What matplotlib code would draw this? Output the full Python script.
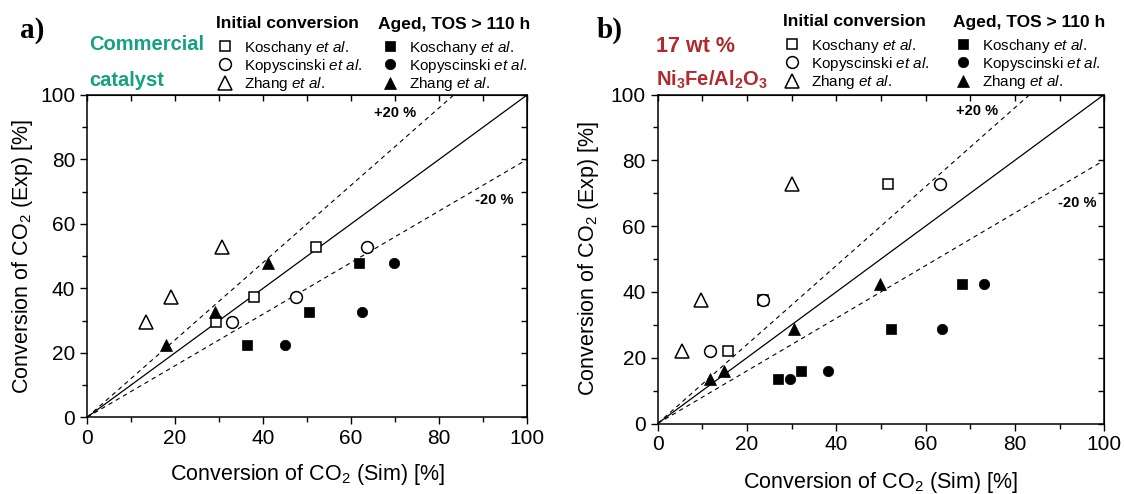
import matplotlib
matplotlib.use("Agg")
import matplotlib.pyplot as plt
import numpy as np
from matplotlib.legend import Legend
from matplotlib.ticker import MultipleLocator

plt.rcParams['font.family'] = ['Liberation Sans', 'DejaVu Sans']
plt.rcParams['mathtext.fontset'] = 'custom'
plt.rcParams['mathtext.rm'] = 'Liberation Sans'
plt.rcParams['mathtext.it'] = 'Liberation Sans:italic'
plt.rcParams['mathtext.bf'] = 'Liberation Sans:bold'

# --- a) commercial catalyst ---
exp_init_a = [29.6, 37.3, 52.8]
exp_aged_a = [22.3, 32.6, 47.8]
sim_koschany_init_a = [29.3, 37.9, 52.0]
sim_kopyscinski_init_a = [33.0, 47.4, 63.6]
sim_zhang_init_a = [13.3, 19.0, 30.6]
sim_koschany_aged_a = [36.4, 50.4, 61.7]
sim_kopyscinski_aged_a = [45.1, 62.4, 69.8]
sim_zhang_aged_a = [17.9, 29.2, 41.1]

# --- b) 17 wt % Ni3Fe/Al2O3 ---
exp_init_b = [22.0, 37.5, 72.7]
exp_aged_b = [13.4, 16.0, 28.7, 42.3]
sim_koschany_init_b = [15.8, 23.6, 51.6]
sim_kopyscinski_init_b = [11.7, 23.6, 63.3]
sim_zhang_init_b = [5.5, 9.6, 30.1]
sim_koschany_aged_b = [27.0, 32.1, 52.2, 68.2]
sim_kopyscinski_aged_b = [29.7, 38.2, 63.7, 73.1]
sim_zhang_aged_b = [11.7, 14.8, 30.6, 49.9]

deviation = 0.2  # +/- 20 % band

authors = [r"Koschany $\it{et\ al.}$", r"Kopyscinski $\it{et\ al.}$", r"Zhang $\it{et\ al.}$"]
markers = ['s', 'o', '^']
open_sizes = [7.5, 8.5, 10]
filled_sizes = [6.5, 7.5, 9]

W, H = 1124, 494
fig = plt.figure(figsize=(W / 100, H / 100), dpi=100)
ax_a = fig.add_axes([0.0774, 0.1553, 0.3915, 0.6524])
ax_b = fig.add_axes([0.5851, 0.1427, 0.3973, 0.666])


def draw_panel(ax, sims_init, exp_init, sims_aged, exp_aged, xlabelpad, ylabelpad):
    x = np.array([0, 100])
    ax.plot(x, x, color='black', lw=0.9, zorder=1)
    ax.plot(x, (1 + deviation) * x, color='black', lw=0.8, dashes=(4, 3.5), zorder=1)
    ax.plot(x, (1 - deviation) * x, color='black', lw=0.8, dashes=(4, 3.5), zorder=1)

    h_open, h_filled = [], []
    for sim, m, ms, lab in zip(sims_init, markers, open_sizes, authors):
        h, = ax.plot(sim, exp_init, ls='none', marker=m, ms=ms, mfc='white',
                     mec='black', mew=1.1, label=lab, zorder=3)
        h_open.append(h)
    for sim, m, ms, lab in zip(sims_aged, markers, filled_sizes, authors):
        h, = ax.plot(sim, exp_aged, ls='none', marker=m, ms=ms, mfc='black',
                     mec='black', mew=0.5, label=lab, zorder=3)
        h_filled.append(h)

    ax.set_xlim(0, 100)
    ax.set_ylim(0, 100)
    ax.xaxis.set_major_locator(MultipleLocator(20))
    ax.yaxis.set_major_locator(MultipleLocator(20))
    ax.xaxis.set_minor_locator(MultipleLocator(10))
    ax.yaxis.set_minor_locator(MultipleLocator(10))
    ax.tick_params(which='both', direction='out', top=False, right=False,
                   labelsize=15, width=1.0)
    ax.tick_params(which='major', length=5)
    ax.tick_params(which='minor', length=3.5)
    for side in ['left', 'bottom', 'top', 'right']:
        ax.spines[side].set_linewidth(1.1)

    # mirrored inward ticks on top and right
    top = ax.secondary_xaxis('top')
    top.xaxis.set_major_locator(MultipleLocator(10))
    top.tick_params(direction='in', length=4, width=1.0, labeltop=False)
    right = ax.secondary_yaxis('right')
    right.yaxis.set_major_locator(MultipleLocator(10))
    right.tick_params(direction='in', length=4, width=1.0, labelright=False)

    ax.set_xlabel(r"Conversion of CO$_2$ (Sim) [%]", fontsize=15.5, labelpad=xlabelpad)
    ax.set_ylabel(r"Conversion of CO$_2$ (Exp) [%]", fontsize=15.5, labelpad=ylabelpad)
    return h_open, h_filled


h_open_a, h_filled_a = draw_panel(
    ax_a,
    [sim_koschany_init_a, sim_kopyscinski_init_a, sim_zhang_init_a], exp_init_a,
    [sim_koschany_aged_a, sim_kopyscinski_aged_a, sim_zhang_aged_a], exp_aged_a, 10, 4)
h_open_b, h_filled_b = draw_panel(
    ax_b,
    [sim_koschany_init_b, sim_kopyscinski_init_b, sim_zhang_init_b], exp_init_b,
    [sim_koschany_aged_b, sim_kopyscinski_aged_b, sim_zhang_aged_b], exp_aged_b, 11, 7)

# band labels
for ax, (xp, yp), (xm, ym) in [(ax_a, (70, 94.5), (92.5, 67.5)),
                               (ax_b, (71.5, 95), (94, 67))]:
    ax.text(xp, yp, "+20 %", fontsize=10.5, fontweight='bold', ha='center', va='center')
    ax.text(xm, ym, "-20 %", fontsize=10.5, fontweight='bold', ha='center', va='center')


def add_legend(ax, handles, title, x_title, y_title, x_marker, y_first_row):
    fs = 11
    px_per_em = fs * 100 / 72
    fig.text(x_title / W, 1 - y_title / H, title, fontsize=12.5, fontweight='bold',
             ha='left', va='center')
    leg = Legend(ax, handles, [h.get_label() for h in handles],
                 frameon=False, loc='upper left', fontsize=fs,
                 handlelength=1.0, handletextpad=0.75, labelspacing=0.02,
                 borderpad=0, borderaxespad=0, numpoints=1,
                 bbox_transform=fig.transFigure,
                 bbox_to_anchor=((x_marker - 0.5 * px_per_em) / W,
                                 1 - (y_first_row - 9.5) / H))
    ax.add_artist(leg)


add_legend(ax_a, h_open_a, "Initial conversion", 216, 24, 225, 48)
add_legend(ax_a, h_filled_a, "Aged, TOS > 110 h", 378, 24, 390, 48)
add_legend(ax_b, h_open_b, "Initial conversion", 783, 22, 792, 46)
add_legend(ax_b, h_filled_b, "Aged, TOS > 110 h", 953, 22, 963, 46)

# panel letters and catalyst names
fig.text(20 / W, 1 - 30 / H, "a)", fontsize=21, fontweight='bold',
         family='Liberation Serif', va='center', ha='left')
fig.text(597 / W, 1 - 30 / H, "b)", fontsize=21, fontweight='bold',
         family='Liberation Serif', va='center', ha='left')

fig.text(89 / W, 1 - 44 / H, "Commercial", fontsize=14.5, fontweight='bold',
         color='#16a085', va='center', ha='left')
fig.text(89 / W, 1 - 80 / H, "catalyst", fontsize=14.5, fontweight='bold',
         color='#16a085', va='center', ha='left')
fig.text(656 / W, 1 - 46 / H, "17 wt %", fontsize=15.5, fontweight='bold',
         color='#b22a2e', va='center', ha='left')
fig.text(656 / W, 1 - 80 / H, r"$\mathbf{Ni_3Fe/Al_2O_3}$", fontsize=14.5,
         color='#b22a2e', va='center', ha='left')

fig.savefig("out.png", dpi=100)
